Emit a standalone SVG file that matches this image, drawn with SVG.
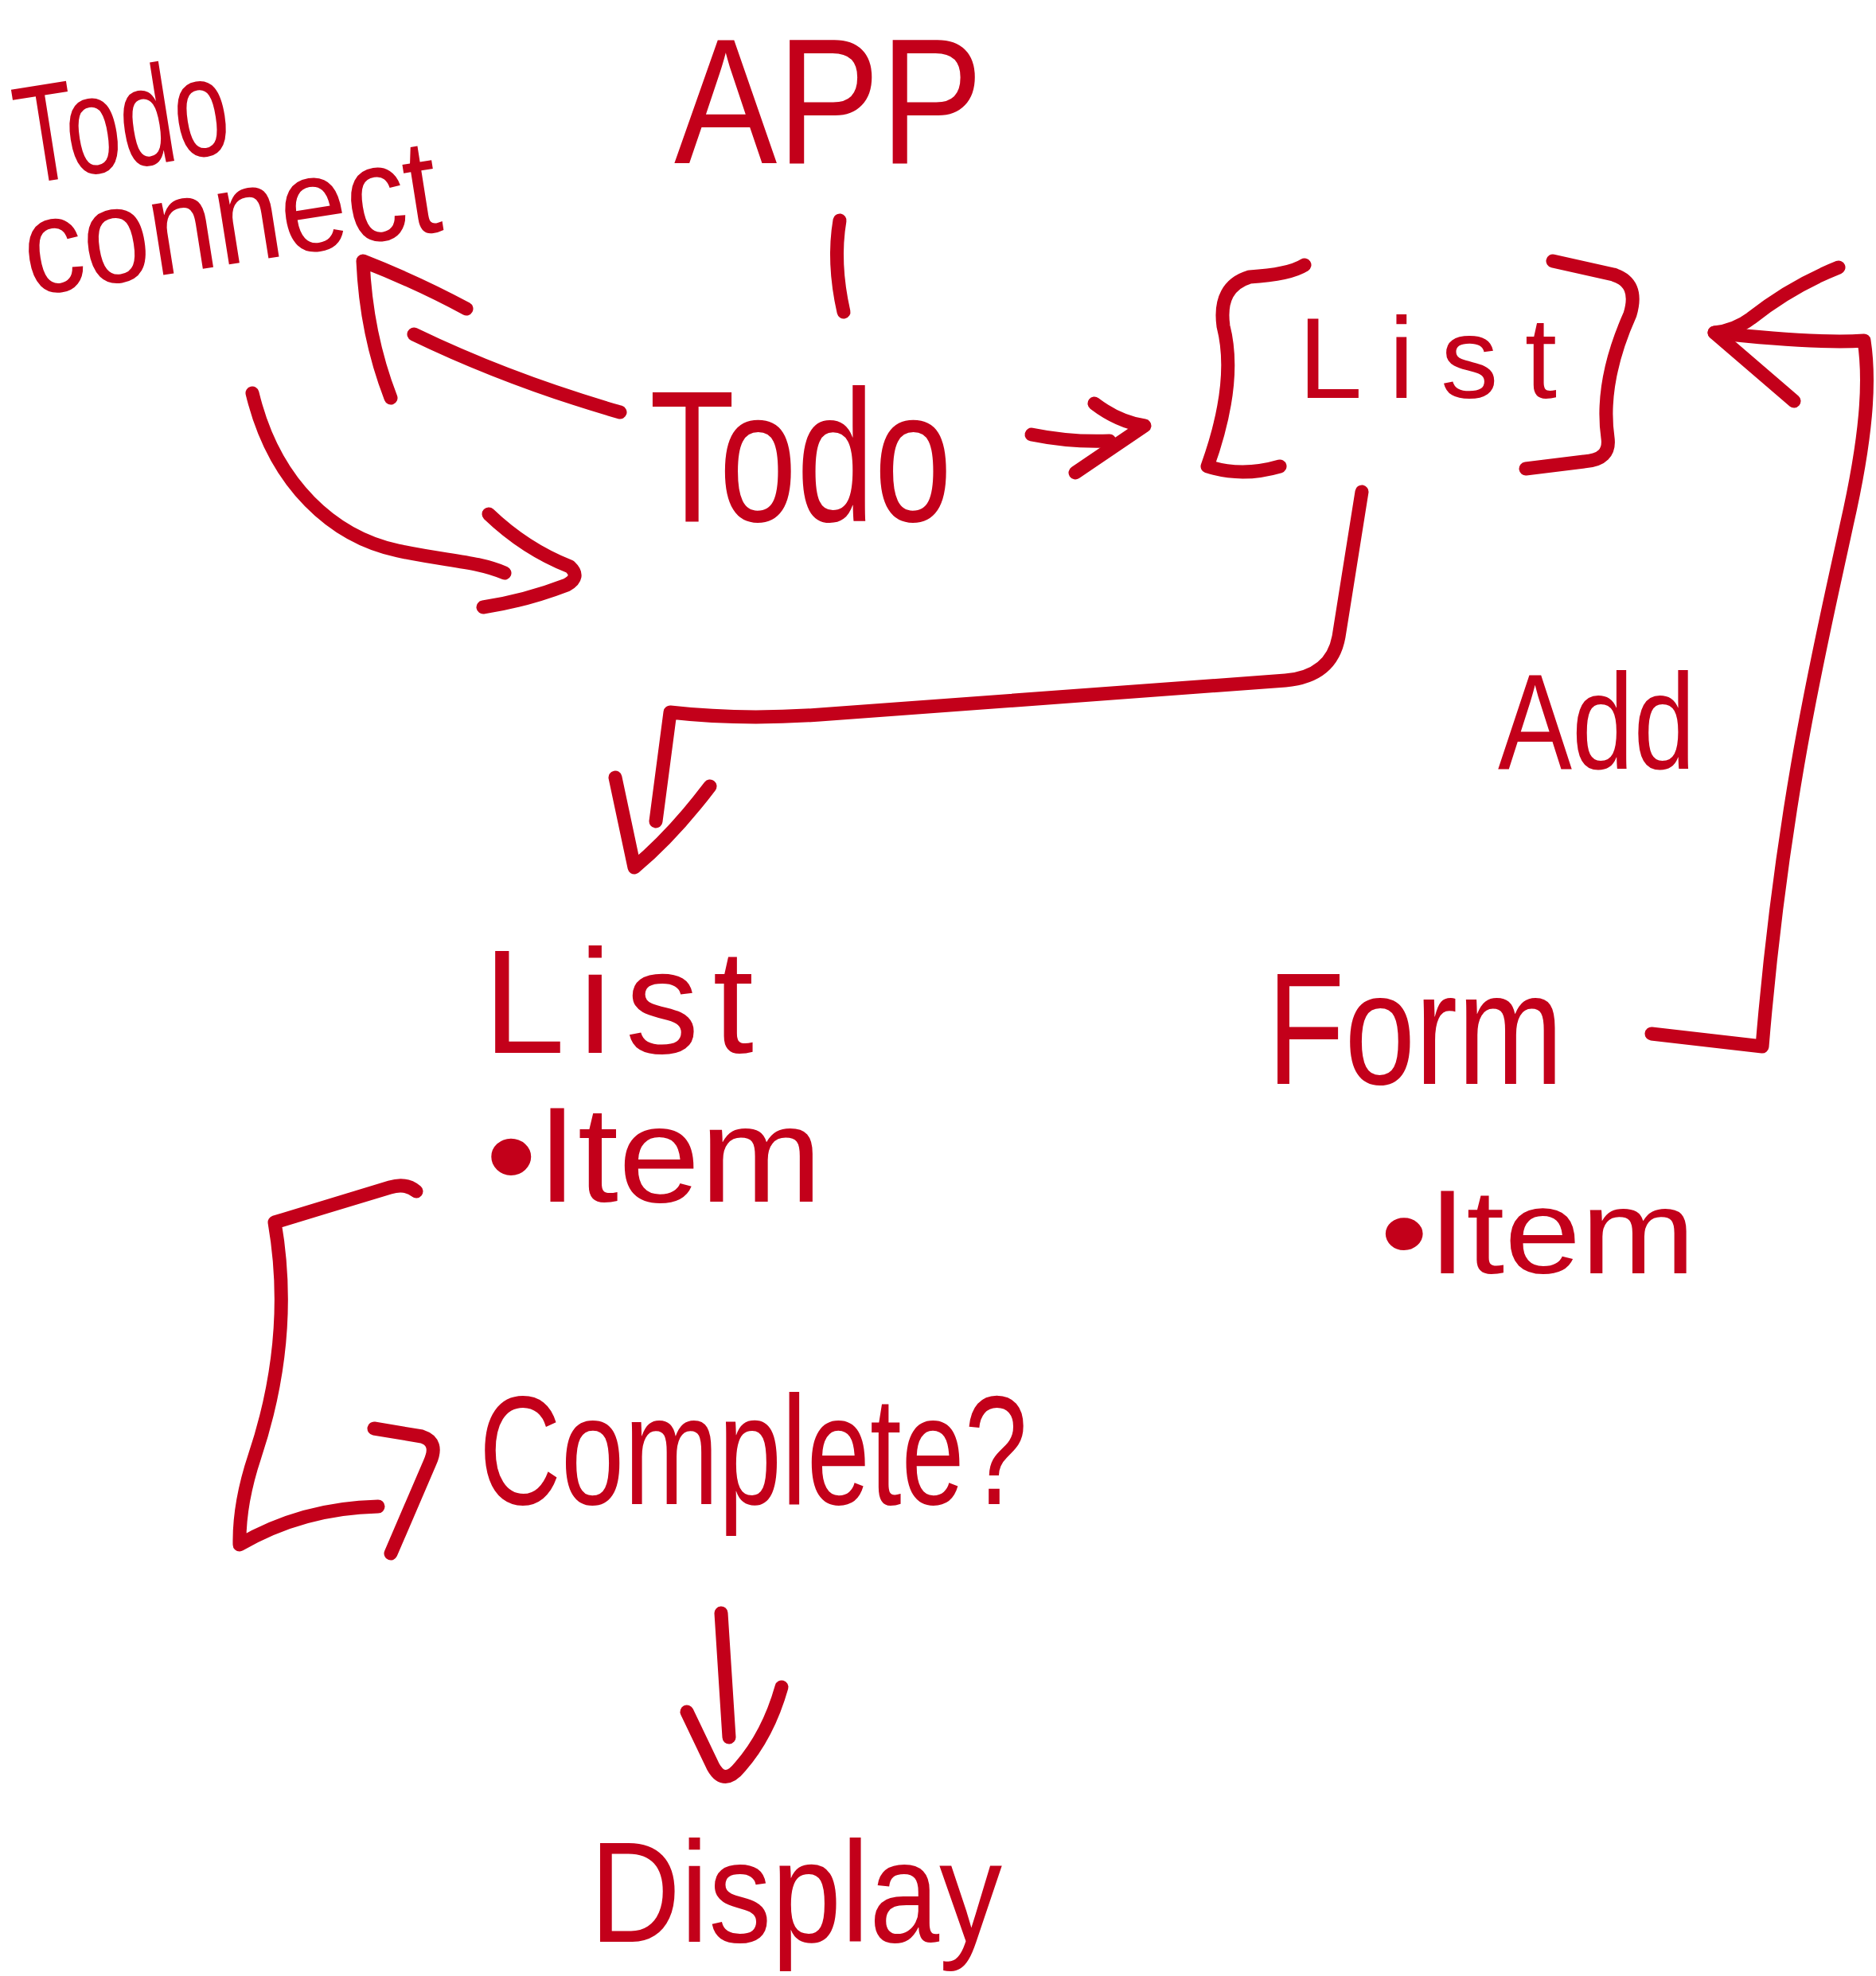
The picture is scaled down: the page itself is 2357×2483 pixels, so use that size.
<svg xmlns="http://www.w3.org/2000/svg" width="2357" height="2483" viewBox="0 0 2357 2483">
<style>
.t{font-family:"Liberation Sans","DejaVu Sans",sans-serif;fill:#c3001a;}
.c{fill:none;stroke:#c3001a;stroke-width:17;stroke-linecap:round;stroke-linejoin:round;}
</style>
<rect width="2357" height="2483" fill="#ffffff"/>
<g id="connectors">
<path class="c" d="M1055,277 Q1046,330 1060,392"/>
<path class="c" d="M1296,546 Q1345,556 1394,554"/>
<path class="c" d="M1375,507 Q1405,530 1438,535 L1351,594"/>
<path class="c" d="M779,518 Q640,478 520,420"/>
<path class="c" d="M491,500 Q460,420 456,328 Q525,355 586,388"/>
<path class="c" d="M317,494 C345,610 420,675 500,692 C560,705 600,705 634,720"/>
<path class="c" d="M614,646 Q660,690 716,712 Q730,725 712,735 Q660,755 607,763"/>
<path class="c" d="M1711,618 L1682,800 Q1673,850 1615,855 L1030,898 Q930,905 842,895 L824,1032"/>
<path class="c" d="M773,977 L797,1090 Q845,1050 892,988"/>
<path class="c" d="M523,1497 Q510,1486 490,1492 L345,1536 Q370,1680 320,1830 Q300,1890 301,1941 Q380,1895 475,1893"/>
<path class="c" d="M470,1795 L530,1805 Q552,1812 540,1838 L491,1952"/>
<path class="c" d="M906,2027 L916,2183"/>
<path class="c" d="M863,2151 L896,2220 Q910,2245 930,2220 Q965,2180 982,2120"/>
<path class="c" d="M2075,1299 L2214,1315 C2240,1000 2290,800 2320,660 C2345,550 2350,480 2342,428 Q2280,432 2154,418"/>
<path class="c" d="M2310,336 Q2250,360 2200,400 Q2180,415 2154,418 L2254,504"/>
</g>
<g id="node-app"><text class="t" x="847" y="205" font-size="225" textLength="388" lengthAdjust="spacingAndGlyphs">APP</text></g>
<g id="node-todo-connect">
<text class="t" x="30" y="232" font-size="175" textLength="268" lengthAdjust="spacingAndGlyphs" transform="rotate(-9 30 232)">Todo</text>
<text class="t" x="38" y="372" font-size="170" textLength="527" lengthAdjust="spacingAndGlyphs" transform="rotate(-9 38 372)">connect</text>
</g>
<g id="node-todo"><text class="t" x="816" y="655" font-size="235" textLength="380" lengthAdjust="spacingAndGlyphs">Todo</text></g>
<g id="node-list-top">
<path class="c" d="M1639,333 Q1620,345 1570,348 Q1530,360 1537,410 Q1555,480 1517,586 Q1560,600 1608,586"/>
<path class="c" d="M1951,328 L2027,345 Q2060,355 2048,395 Q2010,480 2020,550 Q2024,578 1990,580 L1917,589"/>
<text class="t" x="1631" y="500" font-size="145" textLength="325" lengthAdjust="spacing">List</text>
</g>
<g id="node-list-item">
<text class="t" x="607" y="1323" font-size="185" textLength="340" lengthAdjust="spacing">List</text>
<text class="t" x="610" y="1510" font-size="170" textLength="423" lengthAdjust="spacingAndGlyphs">•Item</text>
</g>
<g id="node-complete"><text class="t" x="602" y="1890" font-size="195" textLength="689" lengthAdjust="spacingAndGlyphs">Complete?</text></g>
<g id="node-display"><text class="t" x="741" y="2440" font-size="180" textLength="518" lengthAdjust="spacingAndGlyphs">Display</text></g>
<g id="node-add"><text class="t" x="1882" y="966" font-size="170" textLength="248" lengthAdjust="spacingAndGlyphs">Add</text></g>
<g id="node-form">
<text class="t" x="1592" y="1362" font-size="200" textLength="372" lengthAdjust="spacingAndGlyphs">Form</text>
<text class="t" x="1734" y="1600" font-size="150" textLength="396" lengthAdjust="spacingAndGlyphs">•Item</text>
</g>
</svg>
